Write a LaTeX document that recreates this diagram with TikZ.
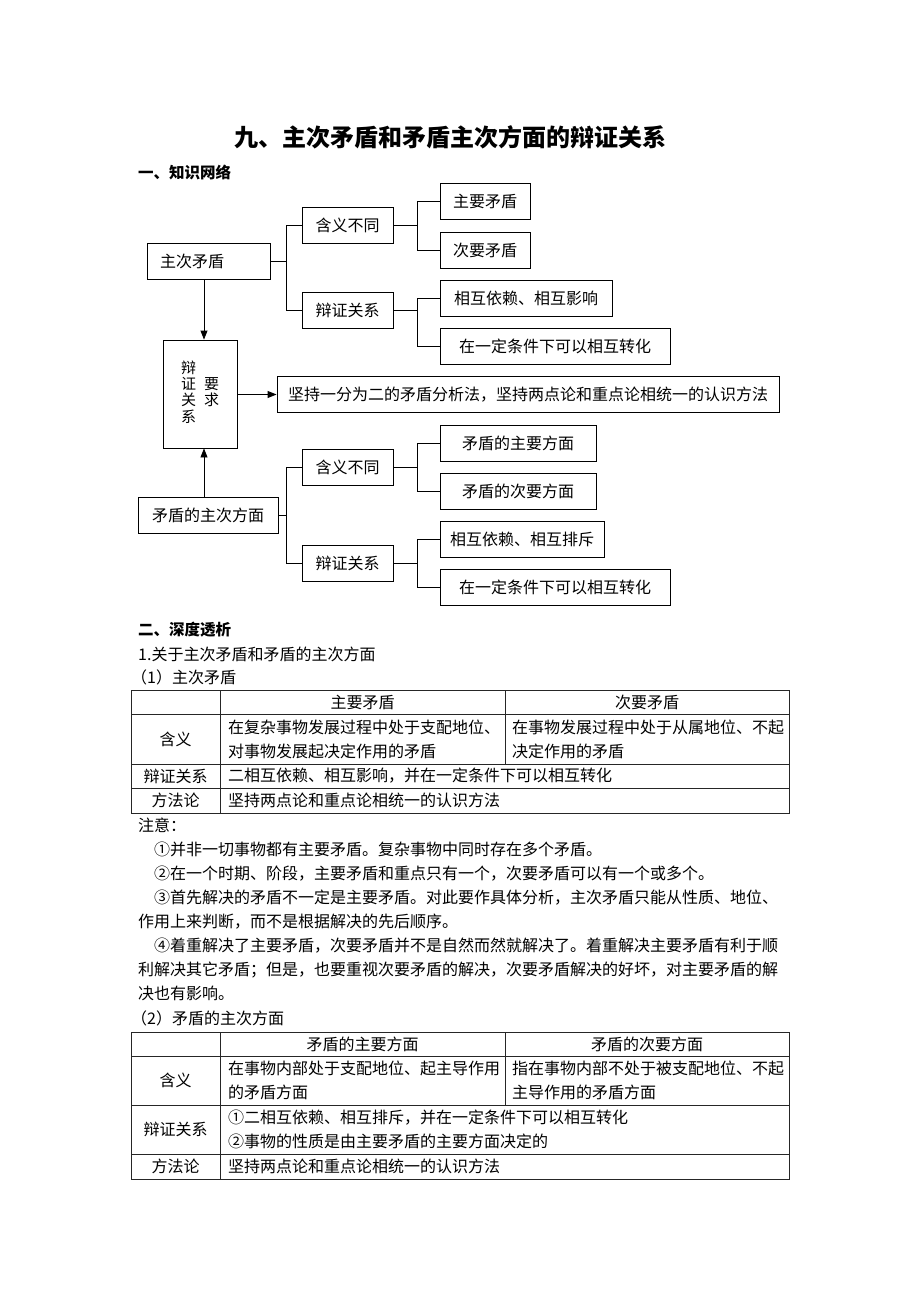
\documentclass[tikz,border=0pt]{standalone}
\usepackage{fontspec}
\setmainfont{Noto Sans CJK SC}
\usetikzlibrary{arrows.meta}

\begin{document}
\begin{tikzpicture}[x=1pt,y=-1pt,
    box/.style={draw, line width=0.9pt, minimum height=36, inner sep=0, font=\fontsize{16}{18}\selectfont},
    link/.style={line width=0.9pt},
    arr/.style={line width=0.9pt, -{Triangle[length=9pt,width=7pt]}},
    grid/.style={line width=0.8pt, black!85},
    txt/.style={anchor=west, inner sep=0, align=left, font=\fontsize{16}{24}\selectfont},
    cell/.style={inner sep=0, font=\fontsize{16}{24}\selectfont}]

    \useasboundingbox[fill=white] (0,0) rectangle (920,1302);

    % title
    \node[font=\bfseries\fontsize{24}{28}\selectfont] (title) at (450,137) {九、主次矛盾和矛盾主次方面的辩证关系};
    \node[txt, font=\bfseries\fontsize{15.5}{20}\selectfont] (net) at (138,172) {一、知识网络};

    % upper branch
    \node[box, minimum width=123, text width=97, align=left] (zc) at (208.5,261.5) {主次矛盾};
    \node[box, minimum width=91] (hy1) at (347.5,225.5) {含义不同};
    \node[box, minimum width=90] (zy) at (485,201) {主要矛盾};
    \node[box, minimum width=90] (cy) at (485,250) {次要矛盾};
    \node[box, minimum width=91] (bz1) at (347.5,310) {辩证关系};
    \node[box, minimum width=172] (yx) at (526,298.5) {相互依赖、相互影响};
    \node[box, minimum width=230] (zh1) at (555,346) {在一定条件下可以相互转化};

    % middle
    \node[box, minimum width=74, minimum height=108, font=\fontsize{15}{16}\selectfont] (yq) at (200,394)
      {\begin{tabular}[c]{@{}c@{}}辩\\[-1pt]证\\[-1pt]关\\[-1pt]系\end{tabular}\hspace{8pt}%
       \begin{tabular}[c]{@{}c@{}}要\\[-1pt]求\end{tabular}};
    \node[box, minimum width=502] (fa) at (528,394.5) {坚持一分为二的矛盾分析法，坚持两点论和重点论相统一的认识方法};

    % lower branch
    \node[box, minimum width=140] (zcf) at (208,515) {矛盾的主次方面};
    \node[box, minimum width=91] (hy2) at (347.5,467) {含义不同};
    \node[box, minimum width=156] (zf) at (518,443) {矛盾的主要方面};
    \node[box, minimum width=156] (cf) at (518,491) {矛盾的次要方面};
    \node[box, minimum width=91] (bz2) at (347.5,563) {辩证关系};
    \node[box, minimum width=164] (pc) at (522,539) {相互依赖、相互排斥};
    \node[box, minimum width=230] (zh2) at (555,587) {在一定条件下可以相互转化};

    % connectors
    \draw[link] (hy1.west) -- ++(-15.5,0) |- (zc.east);
    \draw[link] (bz1.west) -- ++(-15.5,0) |- (zc.east);
    \draw[link] (zy.west) -- ++(-22,0) |- (hy1.east);
    \draw[link] (cy.west) -- ++(-22,0) |- (hy1.east);
    \draw[link] (yx.west) -- ++(-22,0) |- (bz1.east);
    \draw[link] (zh1.west) -- ++(-22,0) |- (bz1.east);
    \draw[link] (hy2.west) -- ++(-15.5,0) |- (zcf.east);
    \draw[link] (bz2.west) -- ++(-15.5,0) |- (zcf.east);
    \draw[link] (zf.west) -- ++(-22,0) |- (hy2.east);
    \draw[link] (cf.west) -- ++(-22,0) |- (hy2.east);
    \draw[link] (pc.west) -- ++(-22,0) |- (bz2.east);
    \draw[link] (zh2.west) -- ++(-22,0) |- (bz2.east);

    % arrows
    \draw[arr] ([xshift=4]yq.north |- zc.south) -- ([xshift=4]yq.north);
    \draw[arr] ([xshift=4]yq.south |- zcf.north) -- ([xshift=4]yq.south);
    \draw[arr] (yq.east |- fa.west) -- (fa.west);

    % second part
    \node[txt, font=\bfseries\fontsize{15.5}{20}\selectfont] (deep) at (138,630) {二、深度透析};
    \node[txt] (sec1) at (138,654) {1.关于主次矛盾和矛盾的主次方面};
    \node[txt] (sub1) at (131,677) {（1）主次矛盾};

    % table 1
    \draw[grid] (131,690) rectangle (789,813);
    \foreach \y in {714,764,788} \draw[grid] (131,\y) -- (789,\y);
    \draw[grid] (220,690) -- (220,813);
    \draw[grid] (505,690) -- (505,764);
    \node[cell] (t1h1) at (362.5,702) {主要矛盾};
    \node[cell] (t1h2) at (647,702) {次要矛盾};
    \node[cell] (t1r1) at (175.5,739) {含义};
    \node[cell] (t1r2) at (175.5,776) {辩证关系};
    \node[cell] (t1r3) at (175.5,800.5) {方法论};
    \node[txt] (t1a) at (228,739) {在复杂事物发展过程中处于支配地位、\\对事物发展起决定作用的矛盾};
    \node[txt] (t1b) at (512,739) {在事物发展过程中处于从属地位、不起\\决定作用的矛盾};
    \node[txt] (t1c) at (228,776) {二相互依赖、相互影响，并在一定条件下可以相互转化};
    \node[txt] (t1d) at (228,800.5) {坚持两点论和重点论相统一的认识方法};

    % notes
    \node[txt] (notes) at (138,909.5)
      {注意：\\
       \hspace*{1em}①并非一切事物都有主要矛盾。复杂事物中同时存在多个矛盾。\\
       \hspace*{1em}②在一个时期、阶段，主要矛盾和重点只有一个，次要矛盾可以有一个或多个。\\
       \hspace*{1em}③首先解决的矛盾不一定是主要矛盾。对此要作具体分析，主次矛盾只能从性质、地位、\\
       作用上来判断，而不是根据解决的先后顺序。\\
       \hspace*{1em}④着重解决了主要矛盾，次要矛盾并不是自然而然就解决了。着重解决主要矛盾有利于顺\\
       利解决其它矛盾；但是，也要重视次要矛盾的解决，次要矛盾解决的好坏，对主要矛盾的解\\
       决也有影响。};
    \node[txt] (sub2) at (131,1018) {（2）矛盾的主次方面};

    % table 2
    \draw[grid] (131,1032) rectangle (789,1179);
    \foreach \y in {1056,1105,1154} \draw[grid] (131,\y) -- (789,\y);
    \draw[grid] (220,1032) -- (220,1179);
    \draw[grid] (505,1032) -- (505,1105);
    \node[cell] (t2h1) at (362.5,1044) {矛盾的主要方面};
    \node[cell] (t2h2) at (647,1044) {矛盾的次要方面};
    \node[cell] (t2r1) at (175.5,1080.5) {含义};
    \node[cell] (t2r2) at (175.5,1129.5) {辩证关系};
    \node[cell] (t2r3) at (175.5,1166.5) {方法论};
    \node[txt] (t2a) at (228,1080.5) {在事物内部处于支配地位、起主导作用\\的矛盾方面};
    \node[txt] (t2b) at (512,1080.5) {指在事物内部不处于被支配地位、不起\\主导作用的矛盾方面};
    \node[txt] (t2c) at (228,1129.5) {①二相互依赖、相互排斥，并在一定条件下可以相互转化\\②事物的性质是由主要矛盾的主要方面决定的};
    \node[txt] (t2d) at (228,1166.5) {坚持两点论和重点论相统一的认识方法};
\end{tikzpicture}
\end{document}
